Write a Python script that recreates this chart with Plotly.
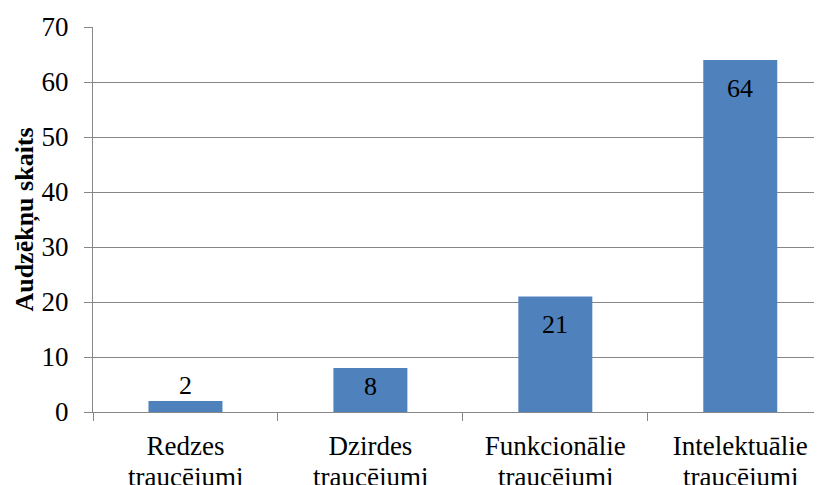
import plotly.graph_objects as go

# Dati
kategorijas = ["Redzes traucējumi", "Dzirdes traucējumi",
               "Funkcionālie traucējumi", "Intelektuālie traucējumi"]
pirma_rinda = ["Redzes", "Dzirdes", "Funkcionālie", "Intelektuālie"]
otra_rinda = ["traucējumi", "traucējumi", "traucējumi", "traucējumi"]
audzekni = [2, 8, 21, 64]
y_ticks = [0, 10, 20, 30, 40, 50, 60, 70]

FONT = "Liberation Serif, Times New Roman, serif"
GRID = "#878787"
BAR = "#4F81BD"

# vertikālā nobīde vērtību uzrakstiem (px)
label_shift = [16, -18, -28, -28]

fig = go.Figure()

fig.add_trace(go.Bar(
    x=kategorijas,
    y=audzekni,
    marker_color=BAR,
    marker_line_width=0,
    width=0.4,
    showlegend=False,
    hoverinfo="x+y",
))

# Vērtību uzraksti
for kat, v, dy in zip(kategorijas, audzekni, label_shift):
    fig.add_annotation(
        x=kat, y=v, xref="x", yref="y",
        text=str(v), showarrow=False,
        yanchor="middle", yshift=dy,
        font=dict(family=FONT, size=26, color="black"),
    )

# Kategoriju otrā rinda
for kat, txt in zip(kategorijas, otra_rinda):
    fig.add_annotation(
        x=kat, y=0, xref="x", yref="paper",
        text=txt, showarrow=False,
        yanchor="top", yshift=-48,
        font=dict(family=FONT, size=27, color="black"),
    )

fig.update_xaxes(
    type="category",
    range=[-0.5, 3.442],
    tickmode="array",
    tickvals=kategorijas,
    ticktext=pirma_rinda,
    tickson="boundaries",
    ticks="outside",
    ticklen=8,
    tickcolor=GRID,
    tickwidth=1,
    ticklabelstandoff=10,
    showline=True,
    linecolor=GRID,
    linewidth=1,
    showgrid=False,
    tickfont=dict(family=FONT, size=27, color="black"),
)

fig.update_yaxes(
    range=[0, 70],
    tickmode="array",
    tickvals=y_ticks,
    ticks="outside",
    ticklen=8,
    tickcolor=GRID,
    tickwidth=1,
    ticklabelstandoff=10,
    showline=True,
    linecolor=GRID,
    linewidth=1,
    showgrid=True,
    gridcolor=GRID,
    gridwidth=1,
    zeroline=False,
    tickfont=dict(family=FONT, size=27, color="black"),
    title=dict(
        text="<b>Audzēkņu skaits</b>",
        font=dict(family=FONT, size=26, color="black"),
        standoff=0,
    ),
)

# lapai ir 8px noklusētā atkāpe, tāpēc figūra ir par 8px mazāka
fig.update_layout(
    width=814,
    height=477,
    margin=dict(l=85, r=0, t=19, b=73, autoexpand=False),
    plot_bgcolor="white",
    paper_bgcolor="white",
    bargap=0.6,
)

fig.write_html("out.html")
